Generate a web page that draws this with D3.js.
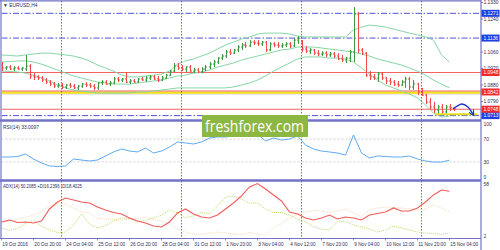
<!DOCTYPE html>
<html><head><meta charset="utf-8">
<script src="https://cdn.jsdelivr.net/npm/d3@7"></script>
<style>body{margin:0;background:#fff}svg{display:block}text{font-family:"Liberation Sans",Arial,sans-serif}</style>
</head><body><svg id="c" width="500" height="250"></svg>
<script>
// ---------- DATA ----------
const opens=[1.0989,1.0973,1.0978,1.0967,1.0973,1.0967,1.0967,1.0983,1.0929,1.0924,
1.0918,1.0907,1.0896,1.0885,1.0874,1.0880,1.0869,1.0880,1.0874,1.0864,
1.0874,1.0885,1.0880,1.0874,1.0864,1.0891,1.0896,1.0885,1.0891,1.0913,
1.0907,1.0913,1.0896,1.0902,1.0896,1.0913,1.0907,1.0918,1.0924,1.0913,
1.0907,1.0918,1.0934,1.0956,1.0983,1.0973,1.0967,1.0978,1.0956,1.0962,
1.0951,1.0967,1.0978,1.0994,1.1005,1.1027,1.1038,1.1060,1.1054,1.1071,
1.1087,1.1098,1.1093,1.1114,1.1109,1.1104,1.1114,1.1071,1.1104,1.1098,
1.1093,1.1098,1.1104,1.1093,1.1125,1.1114,1.1076,1.1065,1.1071,1.1054,
1.1049,1.1054,1.1044,1.1049,1.1038,1.1022,1.1016,1.1027,1.1060,1.1267,
1.1071,1.1054,1.0934,1.0924,1.0918,1.0940,1.0918,1.0902,1.0896,1.0885,
1.0880,1.0896,1.0913,1.0869,1.0885,1.0842,1.0825,1.0787,1.0760,1.0744,
1.0760,1.0733,1.0760,1.0755];
const highs=[1.1005,1.0983,1.0989,1.0983,1.0983,1.0978,1.1044,1.0994,1.0945,1.0934,
1.0929,1.0918,1.0907,1.0896,1.0891,1.0891,1.0885,1.0891,1.0885,1.0880,
1.0891,1.0896,1.0891,1.0885,1.0896,1.0907,1.0907,1.0902,1.0924,1.0924,
1.0918,1.0951,1.0913,1.0913,1.0918,1.0924,1.0929,1.0934,1.0934,1.0929,
1.0929,1.0940,1.0962,1.1000,1.1000,1.0989,1.0983,1.0989,1.0973,1.0973,
1.0978,1.0989,1.1005,1.1016,1.1033,1.1049,1.1071,1.1076,1.1076,1.1098,
1.1109,1.1114,1.1125,1.1125,1.1125,1.1120,1.1120,1.1114,1.1114,1.1114,
1.1109,1.1114,1.1114,1.1136,1.1147,1.1125,1.1093,1.1082,1.1076,1.1071,
1.1065,1.1065,1.1060,1.1060,1.1054,1.1044,1.1033,1.1071,1.1305,1.1278,
1.1082,1.1060,1.0956,1.0940,1.0951,1.0951,1.0924,1.0918,1.0907,1.0902,
1.0907,1.0924,1.0924,1.0907,1.0891,1.0864,1.0831,1.0809,1.0787,1.0771,
1.0776,1.0771,1.0776,1.0760];
const lows=[1.0956,1.0962,1.0962,1.0956,1.0962,1.0956,1.0956,1.0913,1.0907,1.0907,
1.0896,1.0885,1.0874,1.0864,1.0864,1.0858,1.0858,1.0864,1.0858,1.0853,
1.0864,1.0869,1.0864,1.0853,1.0853,1.0880,1.0880,1.0874,1.0885,1.0896,
1.0896,1.0891,1.0885,1.0891,1.0891,1.0902,1.0896,1.0907,1.0907,1.0896,
1.0902,1.0913,1.0929,1.0951,1.0962,1.0956,1.0951,1.0951,1.0945,1.0945,
1.0945,1.0956,1.0967,1.0978,1.0994,1.1016,1.1027,1.1044,1.1049,1.1060,
1.1071,1.1082,1.1087,1.1098,1.1093,1.1093,1.1060,1.1065,1.1087,1.1082,
1.1082,1.1087,1.1082,1.1087,1.1104,1.1060,1.1054,1.1049,1.1044,1.1038,
1.1038,1.1033,1.1033,1.1027,1.1016,1.1005,1.1000,1.1005,1.1005,1.1054,
1.1044,1.0924,1.0907,1.0907,1.0896,1.0907,1.0885,1.0880,1.0874,1.0869,
1.0874,1.0864,1.0853,1.0853,1.0825,1.0820,1.0776,1.0744,1.0727,1.0716,
1.0722,1.0727,1.0738,1.0738];
const closes=[1.0973,1.0978,1.0967,1.0973,1.0967,1.0973,1.0983,1.0929,1.0924,1.0918,
1.0907,1.0896,1.0885,1.0874,1.0880,1.0869,1.0880,1.0874,1.0864,1.0874,
1.0885,1.0880,1.0874,1.0864,1.0891,1.0896,1.0885,1.0891,1.0913,1.0907,
1.0913,1.0896,1.0902,1.0896,1.0913,1.0907,1.0918,1.0924,1.0913,1.0907,
1.0918,1.0934,1.0956,1.0983,1.0973,1.0967,1.0978,1.0956,1.0962,1.0951,
1.0967,1.0978,1.0994,1.1005,1.1027,1.1038,1.1060,1.1054,1.1071,1.1087,
1.1098,1.1093,1.1114,1.1109,1.1104,1.1114,1.1071,1.1104,1.1098,1.1093,
1.1098,1.1104,1.1093,1.1125,1.1136,1.1076,1.1065,1.1071,1.1054,1.1049,
1.1054,1.1044,1.1049,1.1038,1.1022,1.1016,1.1027,1.1060,1.1267,1.1071,
1.1054,1.0934,1.0924,1.0918,1.0940,1.0918,1.0902,1.0896,1.0885,1.0880,
1.0896,1.0913,1.0869,1.0885,1.0842,1.0825,1.0787,1.0760,1.0744,1.0760,
1.0733,1.0760,1.0755,1.0749];
// Bollinger bands, one value every 2 bars
const bbUpper=[1.1044,1.1041,1.1038,1.1044,1.1049,1.1054,1.1054,1.1049,1.1044,1.1038,
1.1027,1.1011,1.0989,1.0973,1.0956,1.0934,1.0924,1.0924,1.0929,1.0934,
1.0940,1.0956,1.0994,1.1011,1.1022,1.1038,1.1054,1.1076,1.1098,1.1114,
1.1131,1.1142,1.1158,1.1163,1.1163,1.1163,1.1158,1.1147,1.1142,1.1142,
1.1142,1.1142,1.1142,1.1142,1.1180,1.1196,1.1207,1.1202,1.1196,1.1185,
1.1174,1.1163,1.1153,1.1142,1.1125,1.1044,1.1005];
const bbMiddle=[1.1005,1.1008,1.1011,1.1011,1.1005,1.0994,1.0978,1.0962,1.0945,1.0929,
1.0918,1.0907,1.0896,1.0891,1.0885,1.0885,1.0885,1.0891,1.0896,1.0902,
1.0907,1.0918,1.0929,1.0934,1.0945,1.0951,1.0962,1.0978,1.0989,1.1000,
1.1016,1.1027,1.1038,1.1049,1.1060,1.1071,1.1076,1.1087,1.1087,1.1087,
1.1082,1.1076,1.1071,1.1065,1.1060,1.1049,1.1038,1.1022,1.1011,1.1000,
1.0989,1.0973,1.0956,1.0934,1.0907,1.0885,1.0864];
const bbLower=[1.0956,1.0954,1.0951,1.0945,1.0934,1.0918,1.0902,1.0880,1.0864,1.0853,
1.0847,1.0842,1.0836,1.0836,1.0836,1.0836,1.0836,1.0842,1.0842,1.0847,
1.0853,1.0858,1.0864,1.0864,1.0864,1.0864,1.0864,1.0864,1.0864,1.0869,
1.0880,1.0891,1.0907,1.0929,1.0956,1.0978,1.1000,1.1022,1.1033,1.1033,
1.1033,1.1027,1.1027,1.1022,1.1005,1.0973,1.0940,1.0907,1.0880,1.0864,
1.0847,1.0831,1.0809,1.0771,1.0727,1.0705,1.0711];
const rsiVals=[38.6,38.6,39.5,43.9,35.1,28.1,22.8,21.9,22.8,35.1,
33.3,31.6,33.3,40.4,47.4,52.6,49.1,47.4,54.4,45.6,
49.1,56.1,64.9,63.2,61.4,64.9,71.9,73.7,73.7,75.4,
75.4,77.2,78.9,66.7,71.9,68.4,70.2,75.4,59.6,52.6,
49.1,47.4,45.6,42.1,77.2,45.6,36.8,40.4,39.5,38.6,
38.6,40.4,35.1,31.6,29.8,29.8,33.0];
const adxVals=[17.1,19.2,16.5,17.1,16.0,18.2,31.1,38.6,42.9,40.8,
38.6,37.5,33.2,30.0,27.3,25.7,21.4,18.2,16.0,12.8,
11.7,17.1,26.8,31.1,25.7,22.5,21.4,24.6,31.1,37.5,
45.1,54.8,58.5,52.6,46.2,39.7,27.8,25.7,21.4,19.2,
21.4,24.6,20.3,22.5,21.4,19.2,24.6,26.2,27.8,32.2,
28.9,28.9,32.2,38.6,46.2,51.5,50.2];
const plusDI=[10.6,7.9,10.1,15.5,18.7,12.8,8.5,5.8,6.3,13.8,
25.7,14.9,10.6,13.3,18.2,21.4,20.8,17.1,18.7,21.4,
24.6,30.0,26.8,21.9,23.5,27.3,25.7,34.3,44.0,45.1,
41.8,37.5,37.5,31.1,27.3,27.3,24.6,20.3,17.1,12.2,
9.5,8.5,17.1,18.2,13.8,11.7,9.5,6.3,8.5,12.8,
10.6,8.5,6.3,5.2,4.7,3.6,5.2];
const minusDI=[16.5,18.2,19.8,21.9,24.6,28.4,34.8,37.0,36.5,32.2,
27.8,26.8,20.8,20.3,20.3,19.2,20.3,21.4,21.9,19.8,
18.2,14.9,9.0,6.3,4.2,3.6,5.2,6.3,5.2,4.2,
3.1,5.8,4.2,3.6,10.6,15.5,21.4,25.7,27.8,29.5,
28.9,27.3,28.9,31.1,26.8,23.5,30.0,32.2,33.2,32.7,
32.2,31.1,30.0,31.1,35.4,32.2,27.8];
const priceTicks=[1.1330,1.1240,1.1060,1.0970,1.0880,1.0790];
const blueLevels=[1.1271,1.1136,1.0713];
const redLevels=[1.0948,1.0842,1.0748];
const rsiTicks=[100,70,30,0];
const rsiGrid=[70,30];
const adxTicks=[58,2];
const weekStarts=[15,45,75,105];
const timeLabels=[[0,"19 Oct 2016"],[8,"20 Oct 20:00"],[16,"24 Oct 04:00"],[24,"25 Oct 12:00"],[32,"26 Oct 20:00"],[40,"28 Oct 04:00"],[48,"31 Oct 12:00"],[56,"1 Nov 20:00"],[64,"3 Nov 04:00"],[72,"4 Nov 12:00"],[80,"7 Nov 20:00"],[88,"9 Nov 04:00"],[96,"10 Nov 12:00"],[104,"11 Nov 20:00"],[112,"15 Nov 04:00"]];
const yellowSeg={price:1.0720,from:108.4,to:118.9};
const arrowPts=[[112.9,1.0749],[113.9,1.0765],[115.1,1.0776],[116.6,1.0760],[117.9,1.0718]];

// ---------- SCALES ----------
const svg=d3.select("#c");
const AX=481;
const x=d3.scaleLinear().domain([0,113]).range([1.5,453.5]);
const yP=d3.scaleLinear().domain([1.0700,1.1330]).range([118,2.5]);
const yR=d3.scaleLinear().domain([0,100]).range([179,122]);
const yA=d3.scaleLinear().domain([2,58]).range([236,184]);
const main={t:1,b:119.5},rp={t:121.5,b:179.5},ap={t:181.5,b:238.5};
const border="#7272c6";
const defs=svg.append("defs");
[["cm",main],["cr",rp],["ca",ap]].forEach(([id,p])=>{
  defs.append("clipPath").attr("id",id).append("rect").attr("x",1.5).attr("y",p.t).attr("width",AX-1.5).attr("height",p.b-p.t);
});
defs.append("marker").attr("id","ah").attr("viewBox","0 0 10 10").attr("refX",8).attr("refY",5)
 .attr("markerWidth",4).attr("markerHeight",4).attr("orient","auto")
 .append("path").attr("d","M0,0L10,5L0,10").attr("fill","none").attr("stroke","#1736c8").attr("stroke-width",2);

const gM=svg.append("g").attr("clip-path","url(#cm)");
// levels
gM.append("line").attr("x1",1.5).attr("x2",AX).attr("y1",yP(1.0842)+2).attr("y2",yP(1.0842)+2).attr("stroke","#cfcfcf").attr("stroke-width",1);
gM.append("line").attr("x1",1.5).attr("x2",AX).attr("y1",yP(1.0842)+0.6).attr("y2",yP(1.0842)+0.6).attr("stroke","#f3e21a").attr("stroke-width",2.2);
redLevels.forEach(v=>{
  const yy=v===1.0842?yP(v)-1:yP(v);
  gM.append("line").attr("x1",1.5).attr("x2",AX).attr("y1",yy).attr("y2",yy).attr("stroke","#f26262").attr("stroke-width",1.1);
});
blueLevels.forEach(v=>{
  gM.append("line").attr("x1",1.5).attr("x2",AX).attr("y1",yP(v)).attr("y2",yP(v)).attr("stroke","#5050dc").attr("stroke-width",1).attr("stroke-dasharray","6,2,1.5,2");
});
// week separators
weekStarts.forEach(i=>{
  svg.append("line").attr("x1",x(i)).attr("x2",x(i)).attr("y1",main.t).attr("y2",ap.b).attr("stroke","#5a5ab4").attr("stroke-width",0.9).attr("stroke-dasharray","1.5,1.5");
});
// bands
const bandLine=d3.line().x((d,k)=>x(k*2)).y(d=>yP(d));
[bbUpper,bbMiddle,bbLower].forEach(arr=>{
  gM.append("path").attr("d",bandLine(arr)).attr("fill","none").attr("stroke","#86d6a6").attr("stroke-width",1);
});
// OHLC bars
const bars=d3.range(opens.length).map(i=>({i,o:opens[i],h:highs[i],l:lows[i],c:closes[i]}));
const bg=gM.selectAll("g.b").data(bars).join("g");
bg.each(function(d){
  const g=d3.select(this);const col=d.c>=d.o?"#3b9a3e":"#f24a4a";
  const xx=Math.round(x(d.i))+0.5;
  g.append("line").attr("x1",xx).attr("x2",xx).attr("y1",yP(d.h)).attr("y2",yP(d.l)).attr("stroke",col).attr("stroke-width",1);
  g.append("line").attr("x1",xx-1.5).attr("x2",xx).attr("y1",yP(d.o)).attr("y2",yP(d.o)).attr("stroke",col).attr("stroke-width",1);
  g.append("line").attr("x1",xx).attr("x2",xx+1.5).attr("y1",yP(d.c)).attr("y2",yP(d.c)).attr("stroke",col).attr("stroke-width",1);
});
// yellow segment + arrow
gM.append("line").attr("x1",x(yellowSeg.from)).attr("x2",x(yellowSeg.to)).attr("y1",yP(yellowSeg.price)).attr("y2",yP(yellowSeg.price)).attr("stroke","#e6dc1e").attr("stroke-width",2);
gM.append("path").attr("d",d3.line().x(d=>x(d[0])).y(d=>yP(d[1])).curve(d3.curveCatmullRom)(arrowPts))
  .attr("fill","none").attr("stroke","#1736c8").attr("stroke-width",1.4).attr("marker-end","url(#ah)");

// RSI
const gR=svg.append("g").attr("clip-path","url(#cr)");
rsiGrid.forEach(v=>gR.append("line").attr("x1",1.5).attr("x2",AX).attr("y1",yR(v)).attr("y2",yR(v)).attr("stroke","#c4c4c4").attr("stroke-width",0.8).attr("stroke-dasharray","2,2"));
gR.append("path").attr("d",d3.line().x((d,k)=>x(k*2)).y(d=>yR(d))(rsiVals)).attr("fill","none").attr("stroke","#5eaaf2").attr("stroke-width",1);

// ADX
const gA=svg.append("g").attr("clip-path","url(#ca)");
const aLine=d3.line().x((d,k)=>x(k*2)).y(d=>yA(d));
gA.append("path").attr("d",aLine(minusDI)).attr("fill","none").attr("stroke","#f2d8b2").attr("stroke-width",1).attr("stroke-dasharray","1,1");
gA.append("path").attr("d",aLine(plusDI)).attr("fill","none").attr("stroke","#bcd96a").attr("stroke-width",1).attr("stroke-dasharray","1,1");
gA.append("path").attr("d",aLine(adxVals)).attr("fill","none").attr("stroke","#f25a5a").attr("stroke-width",1.1);

// borders
svg.append("line").attr("x1",0).attr("x2",AX).attr("y1",0.8).attr("y2",0.8).attr("stroke",border).attr("stroke-width",1.2);
svg.append("line").attr("x1",1).attr("x2",1).attr("y1",0).attr("y2",ap.b).attr("stroke",border).attr("stroke-width",1.2);
svg.append("line").attr("x1",AX).attr("x2",AX).attr("y1",0).attr("y2",250).attr("stroke",border).attr("stroke-width",1.2);
[120.5,180.5].forEach(yy=>svg.append("line").attr("x1",0).attr("x2",AX).attr("y1",yy).attr("y2",yy).attr("stroke",border).attr("stroke-width",2.6));
svg.append("line").attr("x1",0).attr("x2",AX).attr("y1",ap.b).attr("y2",ap.b).attr("stroke",border).attr("stroke-width",1.2);

const txt="#2b2b55", fs=4.9;
// price axis
priceTicks.forEach(v=>{
  svg.append("line").attr("x1",AX).attr("x2",AX+2).attr("y1",yP(v)).attr("y2",yP(v)).attr("stroke",border);
  svg.append("text").attr("x",AX+2.5).attr("y",Math.max(yP(v),2.6)).attr("dy","0.35em").attr("font-size",fs).attr("fill",txt).text(v.toFixed(4));
});
const boxes=blueLevels.map(v=>[v,"#1f3fe0"]).concat(redLevels.map(v=>[v,"#f02a2a"]));
boxes.forEach(([v,c])=>{
  svg.append("rect").attr("x",AX+0.5).attr("y",yP(v)-3.5).attr("width",18).attr("height",7).attr("fill",c);
  svg.append("text").attr("x",AX+2.5).attr("y",yP(v)).attr("dy","0.35em").attr("font-size",fs).attr("fill","#fff").text(v.toFixed(4));
});
rsiTicks.forEach(v=>{
  const yy=Math.min(Math.max(yR(v),rp.t+3),rp.b-2.5);
  svg.append("text").attr("x",AX+2.5).attr("y",yy).attr("dy","0.35em").attr("font-size",fs).attr("fill",txt).text(v);
});
adxTicks.forEach(v=>{
  svg.append("text").attr("x",AX+2.5).attr("y",yA(v)).attr("dy","0.35em").attr("font-size",fs).attr("fill",txt).text(v);
});
// time axis
timeLabels.forEach(([i,t])=>{
  svg.append("line").attr("x1",x(i)).attr("x2",x(i)).attr("y1",ap.b).attr("y2",ap.b+2).attr("stroke",border).attr("stroke-width",0.8);
  svg.append("text").attr("x",x(i)+0.8).attr("y",245.5).attr("font-size",4.7).attr("fill",txt).text(t);
});
// pane titles
svg.append("text").attr("x",3).attr("y",7).attr("font-size",fs).attr("fill",txt).text("\u25BC EURUSD,H4");
svg.append("text").attr("x",3).attr("y",129).attr("font-size",fs).attr("fill",txt).text("RSI(14) 33.0097");
svg.append("text").attr("x",3).attr("y",188).attr("font-size",fs).attr("fill",txt).attr("textLength",79).attr("lengthAdjust","spacingAndGlyphs").text("ADX(14) 50.2085 +DI16.2396 -DI18.4025");
// watermark
svg.append("rect").attr("x",202).attr("y",115).attr("width",106).attr("height",22).attr("fill","#8cb742");
svg.append("text").attr("x",205).attr("y",131.5).attr("font-size",16).attr("fill","#fff").attr("textLength",99).attr("lengthAdjust","spacingAndGlyphs").style("font-family","'Open Sans',sans-serif").text("freshforex.com");
</script></body></html>
